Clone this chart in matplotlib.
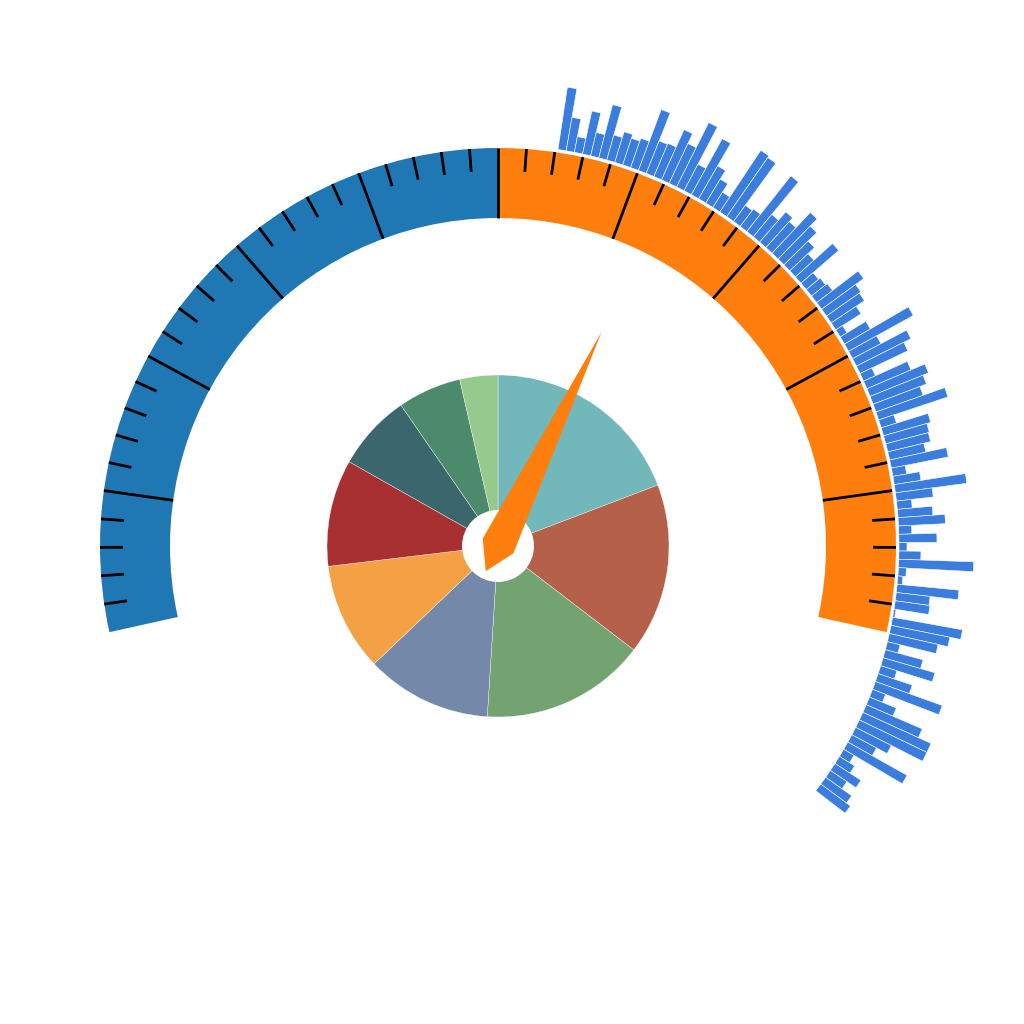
import numpy as np
import matplotlib
matplotlib.use("Agg")
import matplotlib.pyplot as plt
from matplotlib.patches import Wedge, Polygon, Circle

# gauge scale
gauge_min, gauge_max = 0, 100
gauge_split = 50
needle_value = 62.6
major_step, minor_step = 10, 2

# pie in the middle (percent)
pie_values = [19.2, 16.2, 15.6, 11.9, 10.2, 10.1, 7.2, 6.0, 3.6]
pie_colors = ["#72b7b9", "#b5614a", "#74a372", "#7488aa", "#f4a044",
              "#a83030", "#3b666c", "#4b8b6b", "#95c98d"]

# radial bars outside the gauge, clockwise from the top
bar_lengths = [63, 34, 16, 44, 24, 55, 26, 32, 28, 31,
               65, 35, 36, 55, 44, 72, 30, 64, 38, 28,
               18, 74, 72, 20, 22, 71, 29, 40, 35, 56,
               46, 34, 25, 50, 16, 18, 20, 52, 42, 40,
               30, 8, 30, 74, 32, 61, 53, 13, 48, 63,
               57, 50, 73, 16, 49, 45, 44, 37, 58, 14,
               27, 72, 37, 15, 35, 47, 13, 38, 8, 22,
               75, 8, 5, 62, 34, 35, 2, 71, 60, 50,
               13, 39, 54, 17, 36, 71, 14, 29, 61, 75,
               75, 40, 28, 68, 12, 18, 31, 20, 32, 37]

# geometry (pixels, centre of the gauge at 0,0)
START_ANG, END_ANG = 192.5, -12.5
R_OUT, R_IN = 398, 328
BAR_BASE = 401
BAR_START, BAR_STEP = 81.4, 1.19


def val2ang(v):
    return START_ANG + (END_ANG - START_ANG) * (v - gauge_min) / (gauge_max - gauge_min)


fig = plt.figure(figsize=(10.24, 10.24), dpi=100)
ax = fig.add_axes([0, 0, 1, 1])

# pie
ax.pie(pie_values, colors=pie_colors, startangle=90, counterclock=False,
       radius=171, center=(0, 0),
       wedgeprops=dict(edgecolor="white", linewidth=0.25))

# gauge bands
for v0, v1, col in [(gauge_min, gauge_split, "#1f77b4"), (gauge_split, gauge_max, "#ff7f0e")]:
    ax.add_patch(Wedge((0, 0), R_OUT, val2ang(v1), val2ang(v0), width=R_OUT - R_IN,
                       facecolor=col, edgecolor="none"))

# ticks
for v in np.arange(gauge_min + minor_step, gauge_max, minor_step):
    a = np.deg2rad(val2ang(v))
    if v % major_step == 0:
        r0 = R_IN
    else:
        r0 = R_OUT - 23
    ax.plot([r0 * np.cos(a), R_OUT * np.cos(a)], [r0 * np.sin(a), R_OUT * np.sin(a)],
            color="black", lw=2.0, solid_capstyle="butt")

# radial bars
for i, L in enumerate(bar_lengths):
    t2 = BAR_START - i * BAR_STEP
    t1 = t2 - BAR_STEP
    ax.add_patch(Wedge((0, 0), BAR_BASE + L, t1, t2, width=L,
                       facecolor="#3b7ddd", edgecolor="white", linewidth=0.4))

# centre hole
ax.add_patch(Circle((0, 0), 36, facecolor="white", edgecolor="none", zorder=5))

# needle
th = np.deg2rad(val2ang(needle_value))
u = np.array([np.cos(th), np.sin(th)])
w = np.array([-np.sin(th), np.cos(th)])
pts = [238 * u, 17 * w, -28 * u, -17 * w]
ax.add_patch(Polygon(pts, closed=True, facecolor="#ff7f0e", edgecolor="none", zorder=6))

ax.set_xlim(-498, 526)
ax.set_ylim(-478, 546)
ax.set_aspect("equal")
ax.axis("off")

fig.savefig("out.png", dpi=100)
